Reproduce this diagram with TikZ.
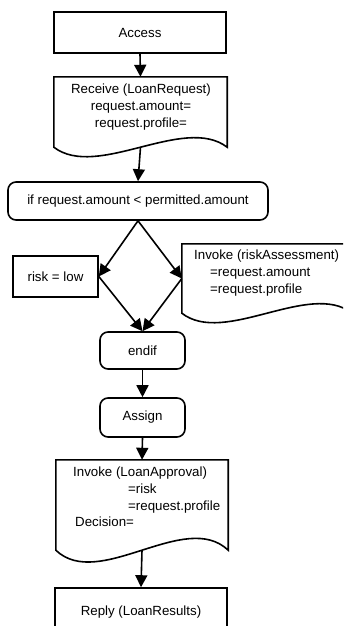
\documentclass[tikz,border=0pt]{standalone}
\usepackage{fontspec}
\setmainfont{Liberation Sans}
\usetikzlibrary{arrows.meta,calc}
\begin{document}
\begin{tikzpicture}[x=1pt,y=-1pt,
  every node/.style={font=\fontsize{13.3}{16.6}\selectfont, inner sep=0pt},
  stepbox/.style={draw, line width=1.6pt, minimum width=#1},
  roundbox/.style={draw, line width=1.6pt, rounded corners=8pt, minimum width=#1},
  docarea/.style={minimum width=#1},
  flow/.style={line width=1.6pt, -{Triangle[length=12pt,width=12pt]}},
  link/.style={line width=1.6pt},
  docline/.style={line width=1.6pt, line join=miter}]
\clip (0,0) rectangle (343,626);
\fill[white] (0,0) rectangle (343,626);

% start of the process
\node[stepbox=172pt, minimum height=41pt] (access) at (140,32.5) {Access};

% receive document
\node[docarea=173pt, minimum height=70pt] (recv) at (140.5,112) {};
\draw[docline] (recv.north west) -- (recv.south west)
  .. controls ($(recv.south west)!0.25!(recv.south east)+(0,33)$)
  and ($(recv.south west)!0.75!(recv.south east)+(0,-33)$) .. (recv.south east)
  -- (recv.north east) -- cycle;
\node[align=center] (recvtext) at (141,107) {Receive (LoanRequest)\\request.amount=\\request.profile=};

% condition
\node[roundbox=260pt, minimum height=38pt] (cond) at (138,201) {if request.amount < permitted.amount};

% branches
\node[stepbox=85pt, minimum height=41pt] (risk) at (55.5,276.5) {risk = low};

\node[docarea=170pt, minimum height=69pt] (assess) at (267,278.5) {};
\draw[docline] (assess.north west) -- (assess.south west)
  .. controls ($(assess.south west)!0.25!(assess.south east)+(0,33)$)
  and ($(assess.south west)!0.75!(assess.south east)+(0,-33)$) .. (assess.south east)
  -- (assess.north east) -- cycle;
\node[align=left, anchor=north west] (assesstext) at (194,250)
  {Invoke (riskAssessment)\\\hspace*{16pt}=request.amount\\\hspace*{16pt}=request.profile};

% join and assignment
\node[roundbox=85pt, minimum height=37pt] (endif) at (142.5,350.5) {endif};
\node[roundbox=85pt, minimum height=39pt] (assign) at (142.5,417.5) {Assign};

% approval document
\node[docarea=172pt, minimum height=90pt] (approve) at (142,505) {};
\draw[docline] (approve.north west) -- (approve.south west)
  .. controls ($(approve.south west)!0.25!(approve.south east)+(0,41)$)
  and ($(approve.south west)!0.75!(approve.south east)+(0,-41)$) .. (approve.south east)
  -- (approve.north east) -- cycle;
\node[align=left, anchor=north west] (approvetext) at (73,467)
  {Invoke (LoanApproval)\\\hspace*{55pt}=risk\\\hspace*{55pt}=request.profile\\\hspace*{2pt}Decision=};

% reply
\node[stepbox=172pt, minimum height=48pt] (reply) at (141,612) {Reply (LoanResults)};

% connectors
\draw[flow] (access.south) -- (recv.north);
\draw[flow] (recv.south) -- (cond.north);
\draw[flow] (cond.south) -- (risk.east);
\draw[flow] (cond.south) -- (assess.west);
\draw[flow] (risk.east) -- (endif.north);
\draw[flow] (assess.west) -- (endif.north);
\draw[flow] (endif.south) -- (assign.north);
\draw[flow] (assign.south) -- (approve.north);
\draw[flow] (approve.south) -- (reply.north);
\end{tikzpicture}
\end{document}
